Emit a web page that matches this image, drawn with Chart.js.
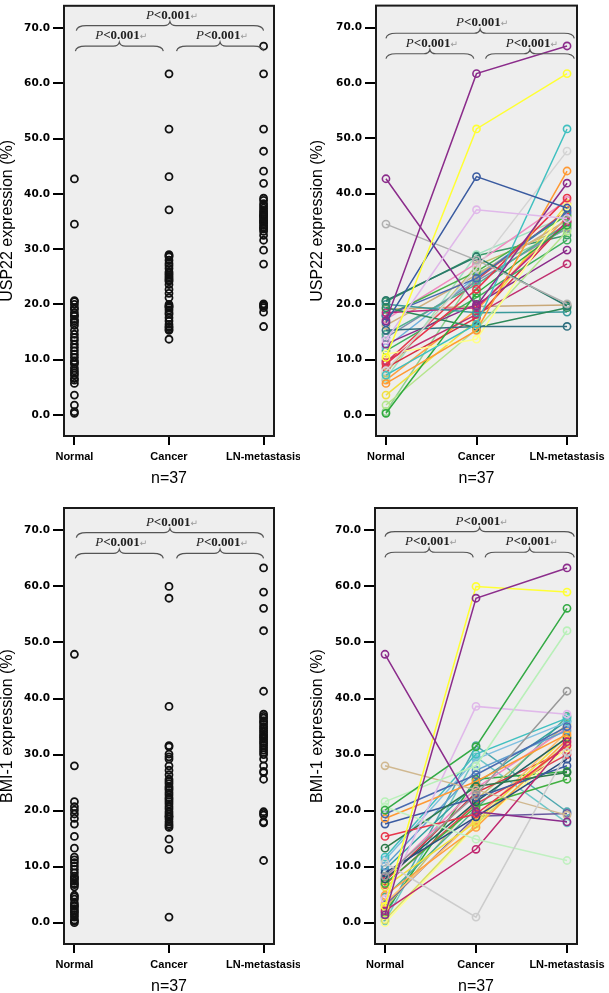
<!DOCTYPE html>
<html>
<head>
<meta charset="utf-8">
<script src="https://cdn.jsdelivr.net/npm/chart.js@4.4.0/dist/chart.umd.min.js"></script>
<style>
  body { margin: 0; background: #fff; width: 609px; height: 993px; overflow: hidden; position: relative; }
  canvas { position: absolute; }
</style>
</head>
<body>
<canvas id="c1" width="300" height="495" style="left:0;top:0"></canvas>
<canvas id="c2" width="309" height="495" style="left:300px;top:0"></canvas>
<canvas id="c3" width="300" height="493" style="left:0;top:500px"></canvas>
<canvas id="c4" width="309" height="493" style="left:300px;top:500px"></canvas>
<script>
/* USP22 / BMI-1 expression - Normal vs Cancer vs LN-metastasis */

const categories = ['Normal', 'Cancer', 'LN-metastasis'];
const yTicks = [0, 10, 20, 30, 40, 50, 60, 70];
const sampleLabel = 'n=37';
const pLabel = 'P<0.001';

// USP22 (%), one entry per patient
const usp22Normal = [17.0, 10.4, 16.7, 13.5, 42.7, 34.5, 7.2, 8.0, 5.7, 9.2, 20.7, 15.3, 11.0, 0.3, 1.8, 19.4, 20.0, 18.5, 18.0,
    17.9, 17.3, 16.2, 14.6, 14.0, 12.8, 12.2, 11.6, 9.8, 9.5, 8.5, 7.6, 6.6, 6.3, 3.6, 0.6, 20.5, 19.1];
const usp22Cancer = [61.7, 51.7, 43.1, 37.1, 19.7, 28.0, 16.4, 26.5, 15.3, 22.7, 28.6, 16.0, 13.7, 22.0, 15.5, 15.8, 18.5, 19.4, 24.7,
    25.9, 27.4, 25.3, 23.6, 24.2, 20.0, 25.0, 21.2, 18.2, 24.4, 17.6, 27.0, 29.0, 19.0, 17.0, 25.6, 28.8, 19.6];
const usp22LN = [66.7, 61.7, 37.4, 35.5, 41.9, 20.1, 51.7, 47.7, 44.1, 39.2, 19.7, 16.0, 37.8, 34.3, 33.2, 19.4, 18.6, 34.9, 36.7,
    36.1, 38.8, 35.2, 34.6, 33.8, 29.8, 36.4, 31.6, 27.3, 37.0, 35.0, 34.0, 36.0, 35.8, 38.2, 33.6, 32.5, 19.9];
const usp22Colors = ['#8b2c8b', '#ffff33', '#3a5ba0', '#e0b8ea', '#8b2c8b', '#b0b0b0', '#40c0c0', '#d4d4d4', '#ff9933', '#e8354a',
    '#2a7a6a', '#2f6f7f', '#ffff88', '#2eaa3e', '#b5e58c', '#2d8a5a', '#3a9a9a', '#c0287a', '#4a6ab0',
    '#4ab04a', '#f08ac0', '#d0b080', '#50b090', '#8090b0', '#8a2a8a', '#70b0e0', '#40b060', '#c03070',
    '#e04050', '#d83040', '#c8c070', '#a0e0c0', '#ffa040', '#f0e040', '#90d090', '#3a9a6a', '#c8a878'];

// BMI-1 (%), one entry per patient
const bmiNormal = [47.9, 1.4, 2.9, 20.1, 21.6, 8.3, 10.7, 4.2, 20.7, 2.1, 28.0, 15.4, 13.3, 19.4, 18.6, 17.6, 11.7, 11.2, 10.1,
    8.9, 7.8, 7.0, 6.4, 4.9, 3.5, 0.5, 0.0, 9.5, 8.0, 7.4, 6.8, 4.6, 3.1, 2.5, 1.8, 1.0, 0.3];
const bmiCancer = [19.8, 57.9, 60.0, 31.4, 28.0, 22.8, 1.0, 38.6, 14.9, 13.1, 23.7, 19.4, 24.3, 26.4, 25.2, 22.3, 30.1, 29.2, 27.2,
    18.9, 21.6, 20.7, 18.0, 17.0, 18.5, 17.6, 17.3, 24.8, 24.0, 23.2, 21.2, 20.3, 19.0, 22.0, 25.6, 31.6, 29.6];
const bmiLN = [18.0, 63.3, 59.0, 56.1, 52.1, 41.3, 30.4, 37.2, 11.1, 32.3, 19.2, 31.6, 26.8, 35.0, 33.6, 28.0, 36.5, 35.8, 34.3,
    29.2, 33.0, 25.6, 33.3, 32.7, 34.0, 32.0, 31.2, 36.0, 34.7, 30.8, 30.0, 36.8, 19.5, 35.4, 27.0, 19.8, 17.8];
const bmiColors = ['#8b2c8b', '#8b2c8b', '#ffff33', '#33aa44', '#b8f0b8', '#999999', '#cccccc', '#e0b8ea', '#c0f0c0', '#c02870',
    '#d0b890', '#e8354a', '#2d7a4a', '#4a6ab0', '#ff9933', '#3a5ba0', '#40c0c0', '#80c0e0', '#60a0d0',
    '#2a4a80', '#1f6060', '#40b040', '#f0e040', '#ffa040', '#ffc070', '#d8e060', '#ffff90', '#30a0a0',
    '#f08ac0', '#d83040', '#e04050', '#50b090', '#6a5aa0', '#c8c070', '#2eaa3e', '#50a8b0', '#70c8c8'];

// 背景・枠・括弧の描画
const panelDeco = {
    id: 'panelDeco',
    beforeDraw(chart) {
        const { ctx, chartArea: a } = chart;
        ctx.save();
        ctx.fillStyle = '#eeeeee';
        ctx.fillRect(a.left, a.top, a.right - a.left, a.bottom - a.top);
        ctx.restore();
    },
    afterDraw(chart, args, opts) {
        const { ctx, chartArea: a, scales } = chart;
        ctx.save();
        ctx.strokeStyle = '#1a1a1a';
        ctx.lineWidth = 2;
        ctx.strokeRect(a.left, a.top, a.right - a.left, a.bottom - a.top);

        (opts.braces || []).forEach(b => {
            const x1 = scales.x.getPixelForValue(b.from);
            const x2 = scales.x.getPixelForValue(b.to);
            const y = scales.y.getPixelForValue(b.y);
            const xm = (x1 + x2) / 2;
            ctx.strokeStyle = '#555';
            ctx.lineWidth = 1.2;
            ctx.beginPath();
            ctx.moveTo(x1, y + 5);
            ctx.quadraticCurveTo(x1 + 1, y, x1 + 10, y);
            ctx.lineTo(xm - 6, y);
            ctx.quadraticCurveTo(xm - 1, y, xm, y - 4);
            ctx.quadraticCurveTo(xm + 1, y, xm + 6, y);
            ctx.lineTo(x2 - 10, y);
            ctx.quadraticCurveTo(x2 - 1, y, x2, y + 5);
            ctx.stroke();

            // P<0.001 + 改行記号
            const head = pLabel.slice(0, 1);
            const tail = pLabel.slice(1);
            const fItal = 'italic 13px "Liberation Serif", serif';
            const fBold = 'bold 13px "Liberation Serif", serif';
            const fMark = '9px "DejaVu Sans", sans-serif';
            ctx.font = fItal; const w1 = ctx.measureText(head).width;
            ctx.font = fBold; const w2 = ctx.measureText(tail).width;
            ctx.font = fMark; const w3 = ctx.measureText('\u21b5').width;
            let tx = xm - (w1 + w2 + w3) / 2 + 2;
            const ty = y - 7;
            ctx.textBaseline = 'alphabetic';
            ctx.textAlign = 'left';
            ctx.fillStyle = '#222';
            ctx.font = fItal; ctx.fillText(head, tx, ty); tx += w1;
            ctx.font = fBold; ctx.fillText(tail, tx, ty); tx += w2;
            ctx.fillStyle = '#999';
            ctx.font = fMark; ctx.fillText('\u21b5', tx, ty);
        });
        ctx.restore();
    }
};

function makeChart(id, datasets, cfg) {
    return new Chart(document.getElementById(id), {
        type: 'scatter',
        data: { datasets: datasets },
        options: {
            responsive: false,
            animation: false,
            layout: { padding: { left: 0, top: cfg.top, right: cfg.right, bottom: cfg.bottom } },
            plugins: {
                legend: { display: false },
                tooltip: { enabled: false },
                panelDeco: { braces: cfg.braces }
            },
            scales: {
                x: {
                    type: 'linear',
                    min: -0.11,
                    max: 2.11,
                    afterBuildTicks: s => { s.ticks = categories.map((c, i) => ({ value: i })); },
                    afterFit: s => { s.height = 49; s.paddingLeft = 0; s.paddingRight = 0; },
                    ticks: {
                        callback: v => categories[v],
                        color: '#000',
                        font: { family: '"Liberation Sans", Arial, sans-serif', size: 11, weight: 'bold' },
                        padding: 5,
                        maxRotation: 0,
                        autoSkip: false
                    },
                    grid: { drawOnChartArea: false, drawTicks: true, tickLength: 9, color: '#000', lineWidth: 2 },
                    border: { display: false },
                    title: {
                        display: true,
                        text: sampleLabel,
                        color: '#000',
                        font: { family: '"Liberation Sans", Arial, sans-serif', size: 16, lineHeight: 0.75 },
                        padding: 0
                    }
                },
                y: {
                    min: -3.8,
                    max: 74,
                    afterBuildTicks: s => { s.ticks = yTicks.map(v => ({ value: v })); },
                    afterFit: s => { s.width = cfg.leftW; s.paddingTop = 0; s.paddingBottom = 0; },
                    ticks: {
                        callback: v => v.toFixed(1),
                        color: '#000',
                        font: { family: '"DejaVu Sans", sans-serif', size: 10.5, weight: 'bold' },
                        padding: 3
                    },
                    grid: { drawOnChartArea: false, drawTicks: true, tickLength: 11, color: '#000', lineWidth: 2 },
                    border: { display: false },
                    title: {
                        display: true,
                        text: cfg.yTitle,
                        color: '#000',
                        font: { family: '"Liberation Sans", Arial, sans-serif', size: 16, lineHeight: 1 },
                        padding: { top: cfg.titlePad, bottom: 0 }
                    }
                }
            }
        },
        plugins: [panelDeco]
    });
}

function scatterSets(normal, cancer, ln) {
    return [normal, cancer, ln].map((vals, i) => ({
        data: vals.map(v => ({ x: i, y: v })),
        showLine: false,
        pointRadius: 3.5,
        pointBorderWidth: 1.8,
        pointBorderColor: '#111',
        pointBackgroundColor: 'rgba(0,0,0,0)'
    }));
}

function pairedSets(normal, cancer, ln, colors) {
    return normal.map((v, i) => ({
        data: [{ x: 0, y: v }, { x: 1, y: cancer[i] }, { x: 2, y: ln[i] }],
        showLine: true,
        borderColor: colors[i],
        borderWidth: 1.5,
        pointRadius: 3.6,
        pointBorderWidth: 1.6,
        pointBorderColor: colors[i],
        pointBackgroundColor: 'rgba(0,0,0,0)'
    }));
}

const leftBraces = y => [
    { from: 0.02, to: 2.0, y: y },
    { from: 0.01, to: 0.94, y: y - 3.7 },
    { from: 1.08, to: 2.0, y: y - 3.7 }
];
const rightBraces = y => [
    { from: 0.0, to: 2.08, y: y },
    { from: 0.0, to: 0.97, y: y - 3.7 },
    { from: 1.1, to: 2.08, y: y - 3.7 }
];

makeChart('c1', scatterSets(usp22Normal, usp22Cancer, usp22LN),
    { top: 2, right: 26, bottom: 10, leftW: 64, titlePad: 0, yTitle: 'USP22 expression (%)', braces: leftBraces(70.4) });
makeChart('c2', pairedSets(usp22Normal, usp22Cancer, usp22LN, usp22Colors),
    { top: 2, right: 32, bottom: 10, leftW: 76, titlePad: 9.5, yTitle: 'USP22 expression (%)', braces: rightBraces(69.0) });
makeChart('c3', scatterSets(bmiNormal, bmiCancer, bmiLN),
    { top: 8, right: 26, bottom: 0, leftW: 64, titlePad: 0, yTitle: 'BMI-1 expression (%)', braces: leftBraces(69.6) });
makeChart('c4', pairedSets(bmiNormal, bmiCancer, bmiLN, bmiColors),
    { top: 8, right: 32, bottom: 0, leftW: 75, titlePad: 10, yTitle: 'BMI-1 expression (%)', braces: rightBraces(69.8) });
</script>
</body>
</html>
